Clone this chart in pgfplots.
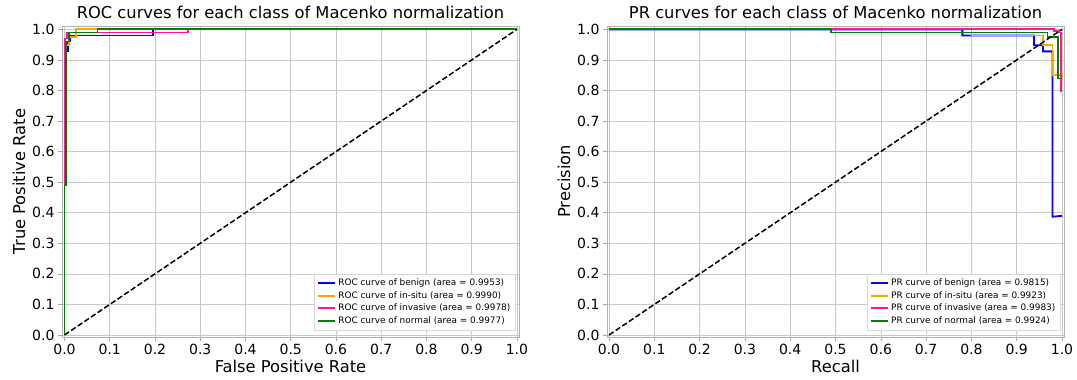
\documentclass[border=0pt]{standalone}
\usepackage{pgfplots}
\pgfplotsset{compat=1.18}
\usepackage{fontspec}
\setmainfont{DejaVu Sans}
\definecolor{mplblue}{RGB}{0,0,255}
\definecolor{mplorange}{RGB}{255,165,0}
\definecolor{mplpink}{RGB}{255,20,147}
\definecolor{mplgreen}{RGB}{0,128,0}
\definecolor{gridgray}{RGB}{200,200,200}
\definecolor{legframe}{RGB}{215,215,215}
\pgfplotsset{
  mystyle/.style={
    scale only axis,
    width=457pt, height=311pt,
    anchor=south west,
    xtick={0,0.1,...,1.0}, ytick={0,0.1,...,1.0},
    xtick pos=left, ytick pos=left,
    tick align=outside,
    major tick length=4pt,
    tick style={gray!70, line width=0.6pt},
    axis line style={gray!60, line width=0.8pt},
    grid=major,
    major grid style={gridgray, line width=0.6pt},
    /pgf/number format/assume math mode=true,
    /pgf/number format/fixed,
    /pgf/number format/fixed zerofill,
    /pgf/number format/precision=1,
    ticklabel style={font=\fontsize{14}{16}\selectfont},
    label style={font=\fontsize{16.3}{18}\selectfont},
    title style={font=\fontsize{16.3}{18}\selectfont, yshift=-2pt},
    legend style={font=\fontsize{8.9}{10}\selectfont, at={(1,0)}, anchor=south east, xshift=-4pt, yshift=7pt,
      draw=legframe, fill=white, inner sep=2.5pt, nodes={inner ysep=2.2pt}},
    legend cell align=left,
    legend image code/.code={\draw[#1, line width=2pt] (0pt,0pt) -- (0.62cm,0pt);},
    every axis plot/.append style={line width=1.8pt},
  }
}
\begin{document}
\begin{tikzpicture}[x=1pt,y=1pt]
\useasboundingbox (0,0) rectangle (1077,380);
\begin{axis}[mystyle, at={(62pt,43pt)},
  xmin=-0.0055, xmax=1.0045, ymin=-0.0065, ymax=1.011,
  title={ROC curves for each class of Macenko normalization},
  xlabel={False Positive Rate}, ylabel={True Positive Rate},
  xlabel style={yshift=2pt}, ylabel style={yshift=0pt}]
\addplot[color=mplblue] coordinates {(0,0) (0,0.49) (0.003,0.49) (0.003,0.93) (0.008,0.93) (0.008,0.96) (0.012,0.96) (0.012,0.98) (0.196,0.98) (0.196,1) (1,1)};
\addlegendentry{ROC curve of benign (area = 0.9953)}
\addplot[color=mplorange] coordinates {(0,0) (0,0.49) (0.004,0.49) (0.004,0.95) (0.01,0.95) (0.01,0.975) (0.025,0.975) (0.025,1) (1,1)};
\addlegendentry{ROC curve of in-situ (area = 0.9990)}
\addplot[color=mplpink] coordinates {(0,0) (0,0.5) (0.002,0.5) (0.002,0.97) (0.006,0.97) (0.006,0.99) (0.273,0.99) (0.273,1) (1,1)};
\addlegendentry{ROC curve of invasive (area = 0.9978)}
\addplot[color=mplgreen] coordinates {(0,0) (0,0.49) (0.003,0.49) (0.003,0.96) (0.01,0.96) (0.01,0.99) (0.073,0.99) (0.073,1) (1,1)};
\addlegendentry{ROC curve of normal (area = 0.9977)}
\addplot[color=black, line width=1.5pt, dash pattern=on 5.5pt off 2.5pt, forget plot] coordinates {(0,0) (1,1)};
\end{axis}
\begin{axis}[mystyle, at={(607pt,43pt)},
  xmin=-0.0044, xmax=1.0044, ymin=-0.0065, ymax=1.011,
  title={PR curves for each class of Macenko normalization},
  xlabel={Recall}, ylabel={Precision},
  xlabel style={yshift=2pt}, ylabel style={yshift=0pt}]
\addplot[color=mplblue] coordinates {(0,1) (0.78,1) (0.78,0.98) (0.938,0.98) (0.938,0.948) (0.958,0.948) (0.958,0.928) (0.979,0.928) (0.979,0.387) (1,0.39)};
\addlegendentry{PR curve of benign (area = 0.9815)}
\addplot[color=mplorange] coordinates {(0,1) (0.8,1) (0.8,0.98) (0.958,0.98) (0.958,0.948) (0.979,0.948) (0.979,0.85) (1,0.85) (1,0.84)};
\addlegendentry{PR curve of in-situ (area = 0.9923)}
\addplot[color=mplpink] coordinates {(0,1) (0.982,1) (0.982,0.995) (0.993,0.995) (0.993,0.99) (0.997,0.99) (0.997,0.797) (1,0.797)};
\addlegendentry{PR curve of invasive (area = 0.9983)}
\addplot[color=mplgreen] coordinates {(0,1) (0.49,1) (0.49,0.99) (0.968,0.99) (0.968,0.975) (0.992,0.975) (0.992,0.839) (1,0.839)};
\addlegendentry{PR curve of normal (area = 0.9924)}
\addplot[color=black, line width=1.5pt, dash pattern=on 5.5pt off 2.5pt, forget plot] coordinates {(0,0) (1,1)};
\end{axis}
\end{tikzpicture}
\end{document}
